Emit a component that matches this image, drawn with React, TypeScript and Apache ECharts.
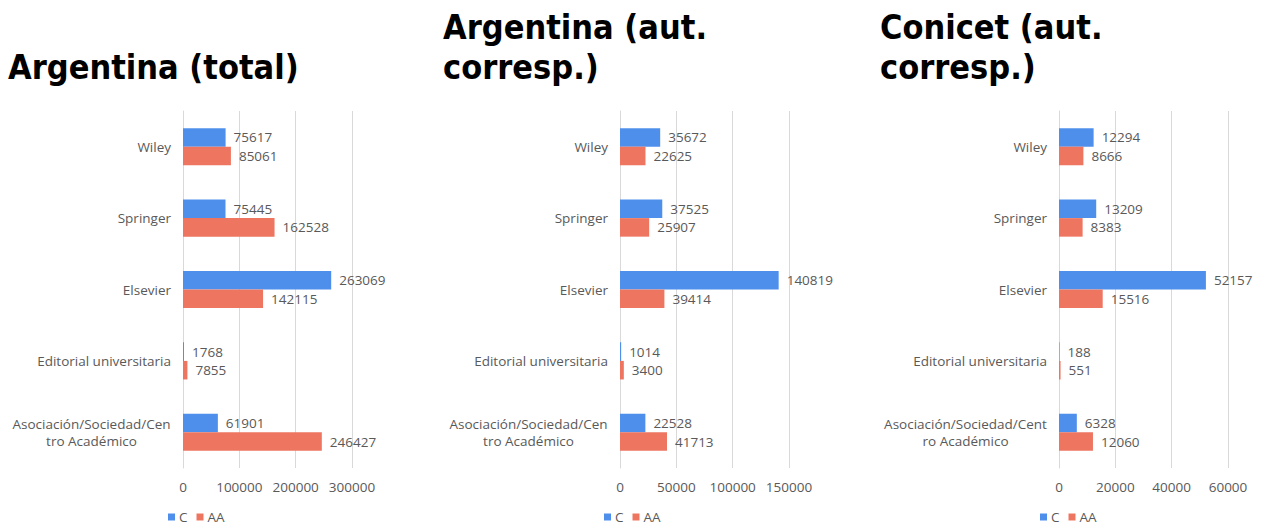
import React, { useEffect, useRef } from "react";
import * as echarts from "echarts";

const categories = [
  "Wiley",
  "Springer",
  "Elsevier",
  "Editorial universitaria",
  "Asociación/Sociedad/Centro Académico",
];

const panelTitles = ["Argentina (total)", "Argentina (aut.\ncorresp.)", "Conicet (aut.\ncorresp.)"];
const seriesNames = ["C", "AA"];

const totalC = [75617, 75445, 263069, 1768, 61901];
const totalAA = [85061, 162528, 142115, 7855, 246427];
const argCorrC = [35672, 37525, 140819, 1014, 22528];
const argCorrAA = [22625, 25907, 39414, 3400, 41713];
const conCorrC = [12294, 13209, 52157, 188, 6328];
const conCorrAA = [8666, 8383, 15516, 551, 12060];

const axisMax = [300000, 150000, 60000];
const axisInterval = [100000, 50000, 20000];
const wrapAt = [23, 23, 24];

const panelData = [
  [totalC, totalAA],
  [argCorrC, argCorrAA],
  [conCorrC, conCorrAA],
];

const FONT = "Open Sans";
const TITLE_FONT = "'DejaVu Sans Condensed', 'DejaVu Sans', sans-serif";
const FS = 13.5;
const GREY = "#595959";
const colors = ["#4F8FEC", "#EE7661"];

const gridLeft = [183, 620, 1059];
const gridWidth = 169;
const legendLeft = [168, 604, 1040];
const titleLeft = [8, 443, 880];
const titleTop = [47, 7, 7];

function measure(text: string, size: number): number {
  const c = document.createElement("canvas");
  const ctx = c.getContext("2d");
  if (!ctx) return text.length * size * 0.5;
  ctx.font = `${size}px "${FONT}"`;
  return ctx.measureText(text).width;
}

export default function App() {
  const ref = useRef<HTMLDivElement>(null);
  useEffect(() => {
    if (!ref.current) return;
    const chart = echarts.init(ref.current, undefined, { renderer: "svg" });
    const grids: any[] = [];
    const xAxes: any[] = [];
    const yAxes: any[] = [];
    const series: any[] = [];
    const titles: any[] = [];
    const legends: any[] = [];
    for (let p = 0; p < 3; p++) {
      grids.push({ left: gridLeft[p], width: gridWidth, top: 111, bottom: 59, containLabel: false });
      xAxes.push({
        type: "value",
        gridIndex: p,
        min: 0,
        max: axisMax[p],
        interval: axisInterval[p],
        axisLine: { show: false },
        axisTick: { show: false },
        splitLine: { show: true, lineStyle: { color: "#d9d9d9", width: 1 } },
        axisLabel: {
          color: GREY,
          fontSize: FS,
          fontFamily: FONT,
          margin: 12,
          formatter: (v: number) => String(v),
        },
      });
      const w = wrapAt[p];
      yAxes.push({
        type: "category",
        gridIndex: p,
        data: categories,
        inverse: true,
        axisLine: { show: true, lineStyle: { color: "#d9d9d9" } },
        axisTick: { show: false },
        axisLabel: {
          color: GREY,
          fontSize: FS,
          fontFamily: FONT,
          margin: 12,
          lineHeight: 17,
          formatter: (v: string) => {
            if (v.length > 26) {
              const a = v.slice(0, w);
              const b = v.slice(w);
              return `{c|${a}}\n{c|${b}}`;
            }
            return v;
          },
          rich: {
            c: {
              width: Math.ceil(measure(categories[4].slice(0, w), FS)),
              align: "center",
              color: GREY,
              fontSize: FS,
              fontFamily: FONT,
              lineHeight: 17,
            },
          },
        },
      });
      for (let s = 0; s < 2; s++) {
        series.push({
          type: "bar",
          name: seriesNames[s],
          xAxisIndex: p,
          yAxisIndex: p,
          data: panelData[p][s],
          barGap: "0%",
          barCategoryGap: "48%",
          itemStyle: { color: colors[s] },
          label: {
            show: true,
            position: "right",
            distance: 8,
            color: GREY,
            fontSize: FS,
            fontFamily: FONT,
          },
        });
      }
      titles.push({
        text: panelTitles[p],
        left: titleLeft[p],
        top: titleTop[p],
        padding: 0,
        textStyle: { fontSize: 34, fontWeight: "bold", fontFamily: TITLE_FONT, color: "#000", lineHeight: 40 },
      });
      legends.push({
        data: seriesNames,
        left: legendLeft[p],
        top: 510,
        padding: 0,
        itemWidth: 7,
        itemHeight: 7,
        itemGap: 9,
        icon: "rect",
        textStyle: { color: GREY, fontSize: FS, fontFamily: FONT, padding: [0, 0, 0, -1] },
      });
    }
    chart.setOption({
      animation: false,
      color: colors,
      title: titles,
      legend: legends,
      grid: grids,
      xAxis: xAxes,
      yAxis: yAxes,
      series,
    });
    return () => chart.dispose();
  }, []);
  return (
    <div
      ref={ref}
      style={{ position: "fixed", left: 0, top: 0, width: 1263, height: 527, background: "#fff" }}
    />
  );
}
